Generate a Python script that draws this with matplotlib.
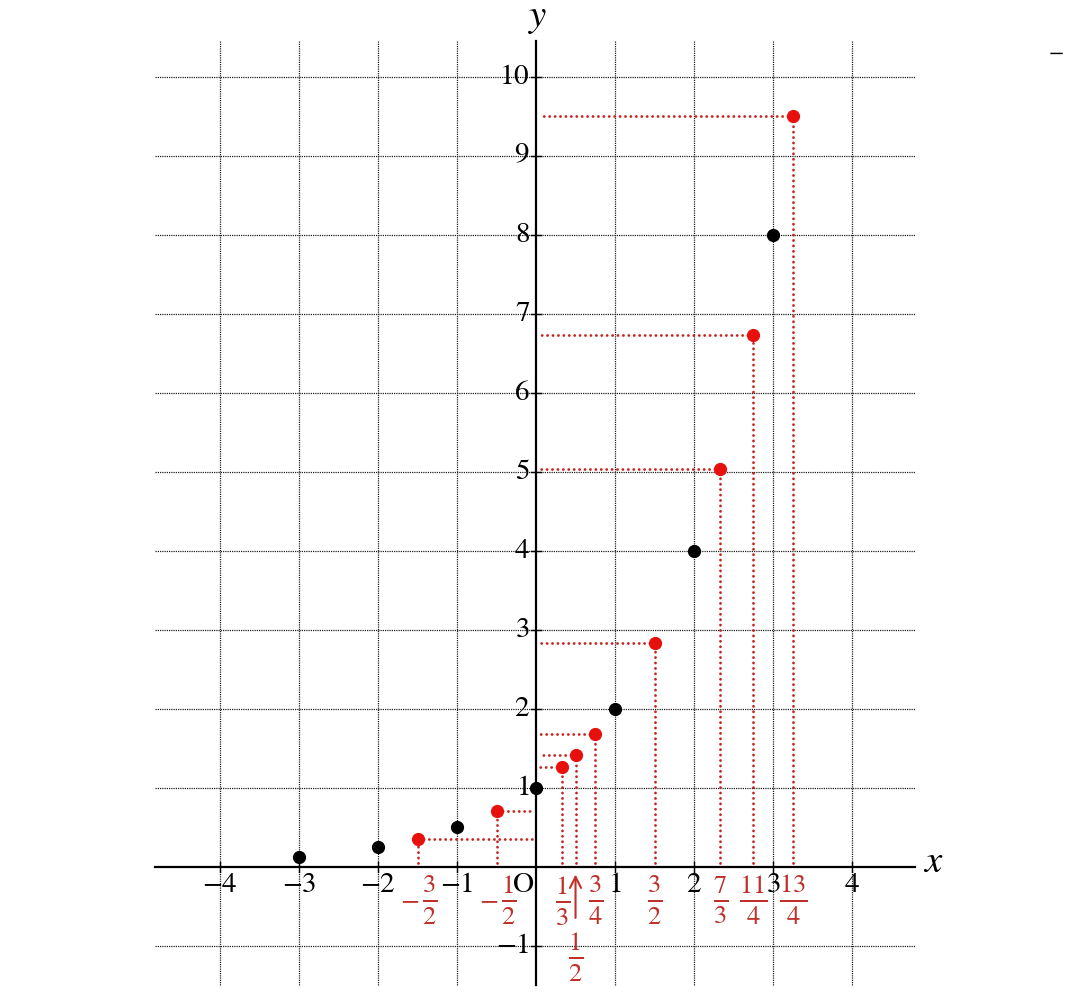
import matplotlib
matplotlib.use("Agg")
import matplotlib.pyplot as plt

plt.rcParams['mathtext.fontset'] = 'stix'
plt.rcParams['font.family'] = ['STIXGeneral', 'DejaVu Serif']

# black points (integer x)
black_x = [-3, -2, -1, 0, 1, 2, 3]
black_y = [0.125, 0.25, 0.5, 1, 2, 4, 8]

# red points (fractional x)
red_x = [-1.5, -0.5, 1/3, 0.5, 0.75, 1.5, 7/3, 2.75, 3.25]
red_y = [0.354, 0.707, 1.26, 1.414, 1.682, 2.83, 5.04, 6.73, 9.51]
red_num = ['3', '1', '1', '1', '3', '3', '7', '11', '13']
red_den = ['2', '2', '3', '2', '4', '2', '3', '4', '4']
red_neg = [True, True, False, False, False, False, False, False, False]

x_ticks = [-4, -3, -2, -1, 1, 2, 3, 4]
y_ticks = [-1, 1, 2, 3, 4, 5, 6, 7, 8, 9, 10]

RED_LINE = '#c42420'
RED_DOT = '#e8100c'
RED_TXT = '#c0302a'

fig = plt.figure(figsize=(10.73, 9.97), dpi=100)
ax = fig.add_axes([0, 0, 1, 1])
ax.set_xlim(-6.785, 6.797)
ax.set_ylim(-1.646, 10.975)
ax.axis('off')

gx0, gx1 = -4.82, 4.80
gy0, gy1 = -1.49, 10.45

# grid
for xv in x_ticks:
    ax.plot([xv, xv], [gy0, gy1], color='#222222', lw=0.9, ls=(0, (1, 0.8)), zorder=1)
for yv in y_ticks:
    ax.plot([gx0, gx1], [yv, yv], color='#222222', lw=0.9, ls=(0, (1, 0.8)), zorder=1)

# axes
ax.plot([gx0, gx1], [0, 0], color='black', lw=1.6, zorder=3)
ax.plot([0, 0], [gy0, gy1], color='black', lw=1.6, zorder=3)
tl = 0.06
for xv in x_ticks:
    ax.plot([xv, xv], [-tl, tl], color='black', lw=1.0, zorder=3)
for yv in y_ticks:
    ax.plot([-tl, tl], [yv, yv], color='black', lw=1.0, zorder=3)

# red dotted guides
dot = (0, (0.05, 1.9))
for xv, yv in zip(red_x, red_y):
    ax.plot([xv, xv], [0.05, yv], color=RED_LINE, lw=2.0, ls=dot,
            dash_capstyle='round', zorder=2)
    if xv > 0:
        ax.plot([xv, 0.05], [yv, yv], color=RED_LINE, lw=2.0, ls=dot,
                dash_capstyle='round', zorder=2)
    else:
        ax.plot([xv, -0.04], [yv, yv], color=RED_LINE, lw=2.0, ls=dot,
                dash_capstyle='round', zorder=2)

# points
ax.plot(black_x, black_y, 'o', color='black', ms=8.5, zorder=5)
ax.plot(red_x, red_y, 'o', color=RED_DOT, ms=8.5, zorder=5)

# tick labels
for xv in x_ticks:
    ax.text(xv, -0.23, r'$%s$' % (('-%d' % -xv) if xv < 0 else str(xv)),
            ha='center', va='center', fontsize=21, color='black', zorder=6)
for yv in y_ticks:
    ax.text(-0.08, yv, r'$%s$' % (('-%d' % -yv) if yv < 0 else str(yv)),
            ha='right', va='center', fontsize=21, color='black', zorder=6)
ax.text(-0.17, -0.23, r'$\mathrm{O}$', ha='center', va='center', fontsize=21, zorder=6)

# red fraction labels
for xv, n, d, neg in zip(red_x, red_num, red_den, red_neg):
    lab = r'$\frac{%s}{%s}$' % (n, d)
    if xv == 0.5:
        ax.text(xv, -1.14, lab, ha='center', va='center', fontsize=27,
                color=RED_TXT, zorder=6)
        ax.annotate('', xy=(xv, -0.06), xytext=(xv, -0.68),
                    arrowprops=dict(arrowstyle='->', color=RED_TXT, lw=1.5,
                                    mutation_scale=20), zorder=6)
        continue
    fx = xv + 0.15 if neg else xv
    ax.text(fx, -0.42, lab, ha='center', va='center', fontsize=27,
            color=RED_TXT, zorder=6)
    if neg:
        ax.text(xv - 0.1, -0.42, r'$-$', ha='center', va='center', fontsize=20,
                color=RED_TXT, zorder=6)

# axis names
ax.text(5.03, 0.05, r'$x$', ha='center', va='center', fontsize=28, zorder=6)
ax.text(0.02, 10.74, r'$y$', ha='center', va='center', fontsize=28, zorder=6)
ax.text(6.58, 10.29, '−', ha='center', va='center', fontsize=16, zorder=6)

fig.savefig('out.png', dpi=100)
